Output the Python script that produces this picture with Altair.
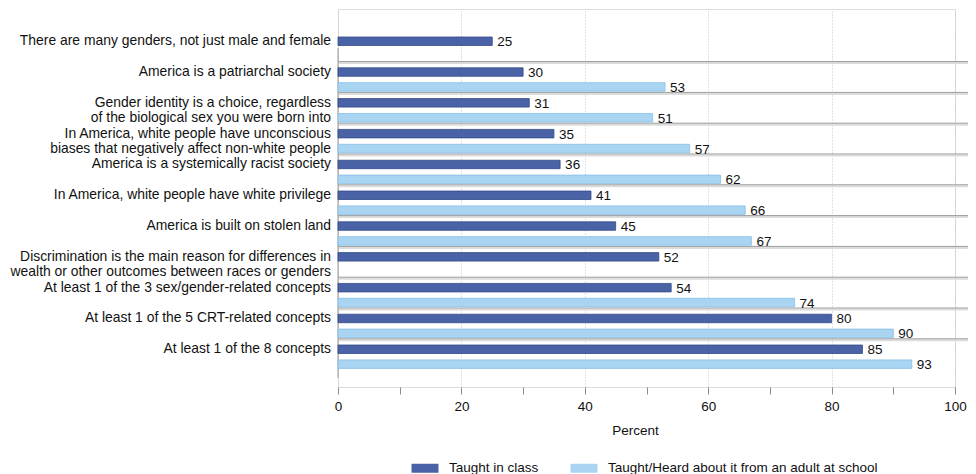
import altair as alt
import pandas as pd

# ---------------- data ----------------
label_lines = [
    ["There are many genders, not just male and female"],
    ["America is a patriarchal society"],
    ["Gender identity is a choice, regardless", "of the biological sex you were born into"],
    ["In America, white people have unconscious", "biases that negatively affect non-white people"],
    ["America is a systemically racist society"],
    ["In America, white people have white privilege"],
    ["America is built on stolen land"],
    ["Discrimination is the main reason for differences in", "wealth or other outcomes between races or genders"],
    ["At least 1 of the 3 sex/gender-related concepts"],
    ["At least 1 of the 5 CRT-related concepts"],
    ["At least 1 of the 8 concepts"],
]
categories = [" ".join(lines) for lines in label_lines]
taught = [25, 30, 31, 35, 36, 41, 45, 52, 54, 80, 85]
heard = [None, 53, 51, 57, 62, 66, 67, None, 74, 90, 93]
series = ["Taught in class", "Taught/Heard about it from an adult at school"]
x_ticks = list(range(0, 101, 10))

fill_colors = ["#4a63a6", "#a9d4f2"]
stroke_colors = ["#33498a", "#86bfe8"]
FONT = "Liberation Sans"

# ---------------- tables ----------------
bar_rows = []
for c, t, h in zip(categories, taught, heard):
    bar_rows.append({"cat": c, "series": series[0], "value": t})
    if h is not None:
        bar_rows.append({"cat": c, "series": series[1], "value": h})
bars_df = pd.DataFrame(bar_rows)

label_rows = []
for c, lines in zip(categories, label_lines):
    for i, line in enumerate(lines):
        label_rows.append({"cat": c, "series": series[i], "line": line})
labels_df = pd.DataFrame(label_rows)

sep_df = pd.DataFrame({"cat": categories[1:]})
axis_df = pd.DataFrame({"v": [0]})

y_scale = alt.Scale(domain=categories, paddingInner=0, paddingOuter=0.636, align=0.62)
yo_scale = alt.Scale(domain=series, paddingInner=0.43, paddingOuter=0.25)
x_scale = alt.Scale(domain=[0, 100], nice=False)


def Y(**kw):
    return alt.Y("cat:N", scale=y_scale, axis=None, **kw)


def YO():
    return alt.YOffset("series:N", scale=yo_scale)


# separators (double grey line)
sep_light = alt.Chart(sep_df).mark_rule(color="#dcdcdc", strokeWidth=2, yOffset=-1).encode(
    y=Y(bandPosition=0), x=alt.value(0), x2=alt.value(630)
)
sep_dark = alt.Chart(sep_df).mark_rule(color="#9c9c9c", strokeWidth=1, yOffset=-2.5).encode(
    y=Y(bandPosition=0), x=alt.value(0), x2=alt.value(630)
)

# vertical zero line
zero_line = alt.Chart(axis_df).mark_rule(color="#9a9a9a", strokeWidth=1).encode(
    x=alt.X("v:Q", scale=x_scale), y=alt.value(39), y2=alt.value(369)
)

bars = alt.Chart(bars_df).mark_bar(strokeWidth=0.8).encode(
    x=alt.X(
        "value:Q",
        scale=x_scale,
        axis=alt.Axis(
            values=x_ticks,
            labelExpr="datum.value % 20 === 0 ? datum.label : ''",
            title="Percent",
            titleX=297,
            titleY=43,
            titleBaseline="middle",
            titleFontWeight="normal",
            titleFontSize=13.5,
            titleColor="#111111",
            labelFontSize=13.5,
            labelColor="#111111",
            labelPadding=5,
            labelFlush=False,
            tickSize=7,
            tickColor="#8a8a8a",
            domain=False,
            grid=True,
            gridColor="#c4c4c4",
            gridDash=[1, 2],
            gridOpacity={"condition": {"test": "datum.value % 20 === 0", "value": 1}, "value": 0},
        ),
    ),
    y=Y(),
    yOffset=YO(),
    color=alt.Color(
        "series:N",
        scale=alt.Scale(domain=series, range=fill_colors),
        legend=alt.Legend(
            title=None,
            orient="none",
            legendX=78,
            legendY=450,
            direction="horizontal",
            symbolType="M-1.5,-0.5L1.5,-0.5L1.5,0.5L-1.5,0.5Z",
            symbolSize=324,
            symbolStrokeWidth=0,
            labelFontSize=13.5,
            labelColor="#111111",
            labelOffset=15,
            labelLimit=0,
            columnPadding=31,
            padding=0,
        ),
    ),
    stroke=alt.Stroke("series:N", scale=alt.Scale(domain=series, range=stroke_colors), legend=None),
)

values = alt.Chart(bars_df).mark_text(
    align="left", baseline="middle", dx=5, dy=1, fontSize=13.5, color="#111111"
).encode(
    x=alt.X("value:Q", scale=x_scale),
    y=Y(),
    yOffset=YO(),
    text=alt.Text("value:Q"),
)

labels = alt.Chart(labels_df).mark_text(
    align="right", baseline="middle", fontSize=13.9, color="#111111"
).encode(
    x=alt.value(-7),
    y=Y(),
    yOffset=YO(),
    text="line:N",
)

chart = (
    alt.layer(sep_light, sep_dark, zero_line, bars, values, labels)
    .properties(
        width=617,
        height=378,
        padding={"left": 330, "top": 1, "right": 13, "bottom": 87},
        autosize="none",
        background="white",
    )
    .configure_view(stroke=None)
    .configure(font=FONT)
)

chart.save("out.html", embed_options={"renderer": "svg", "actions": False})
